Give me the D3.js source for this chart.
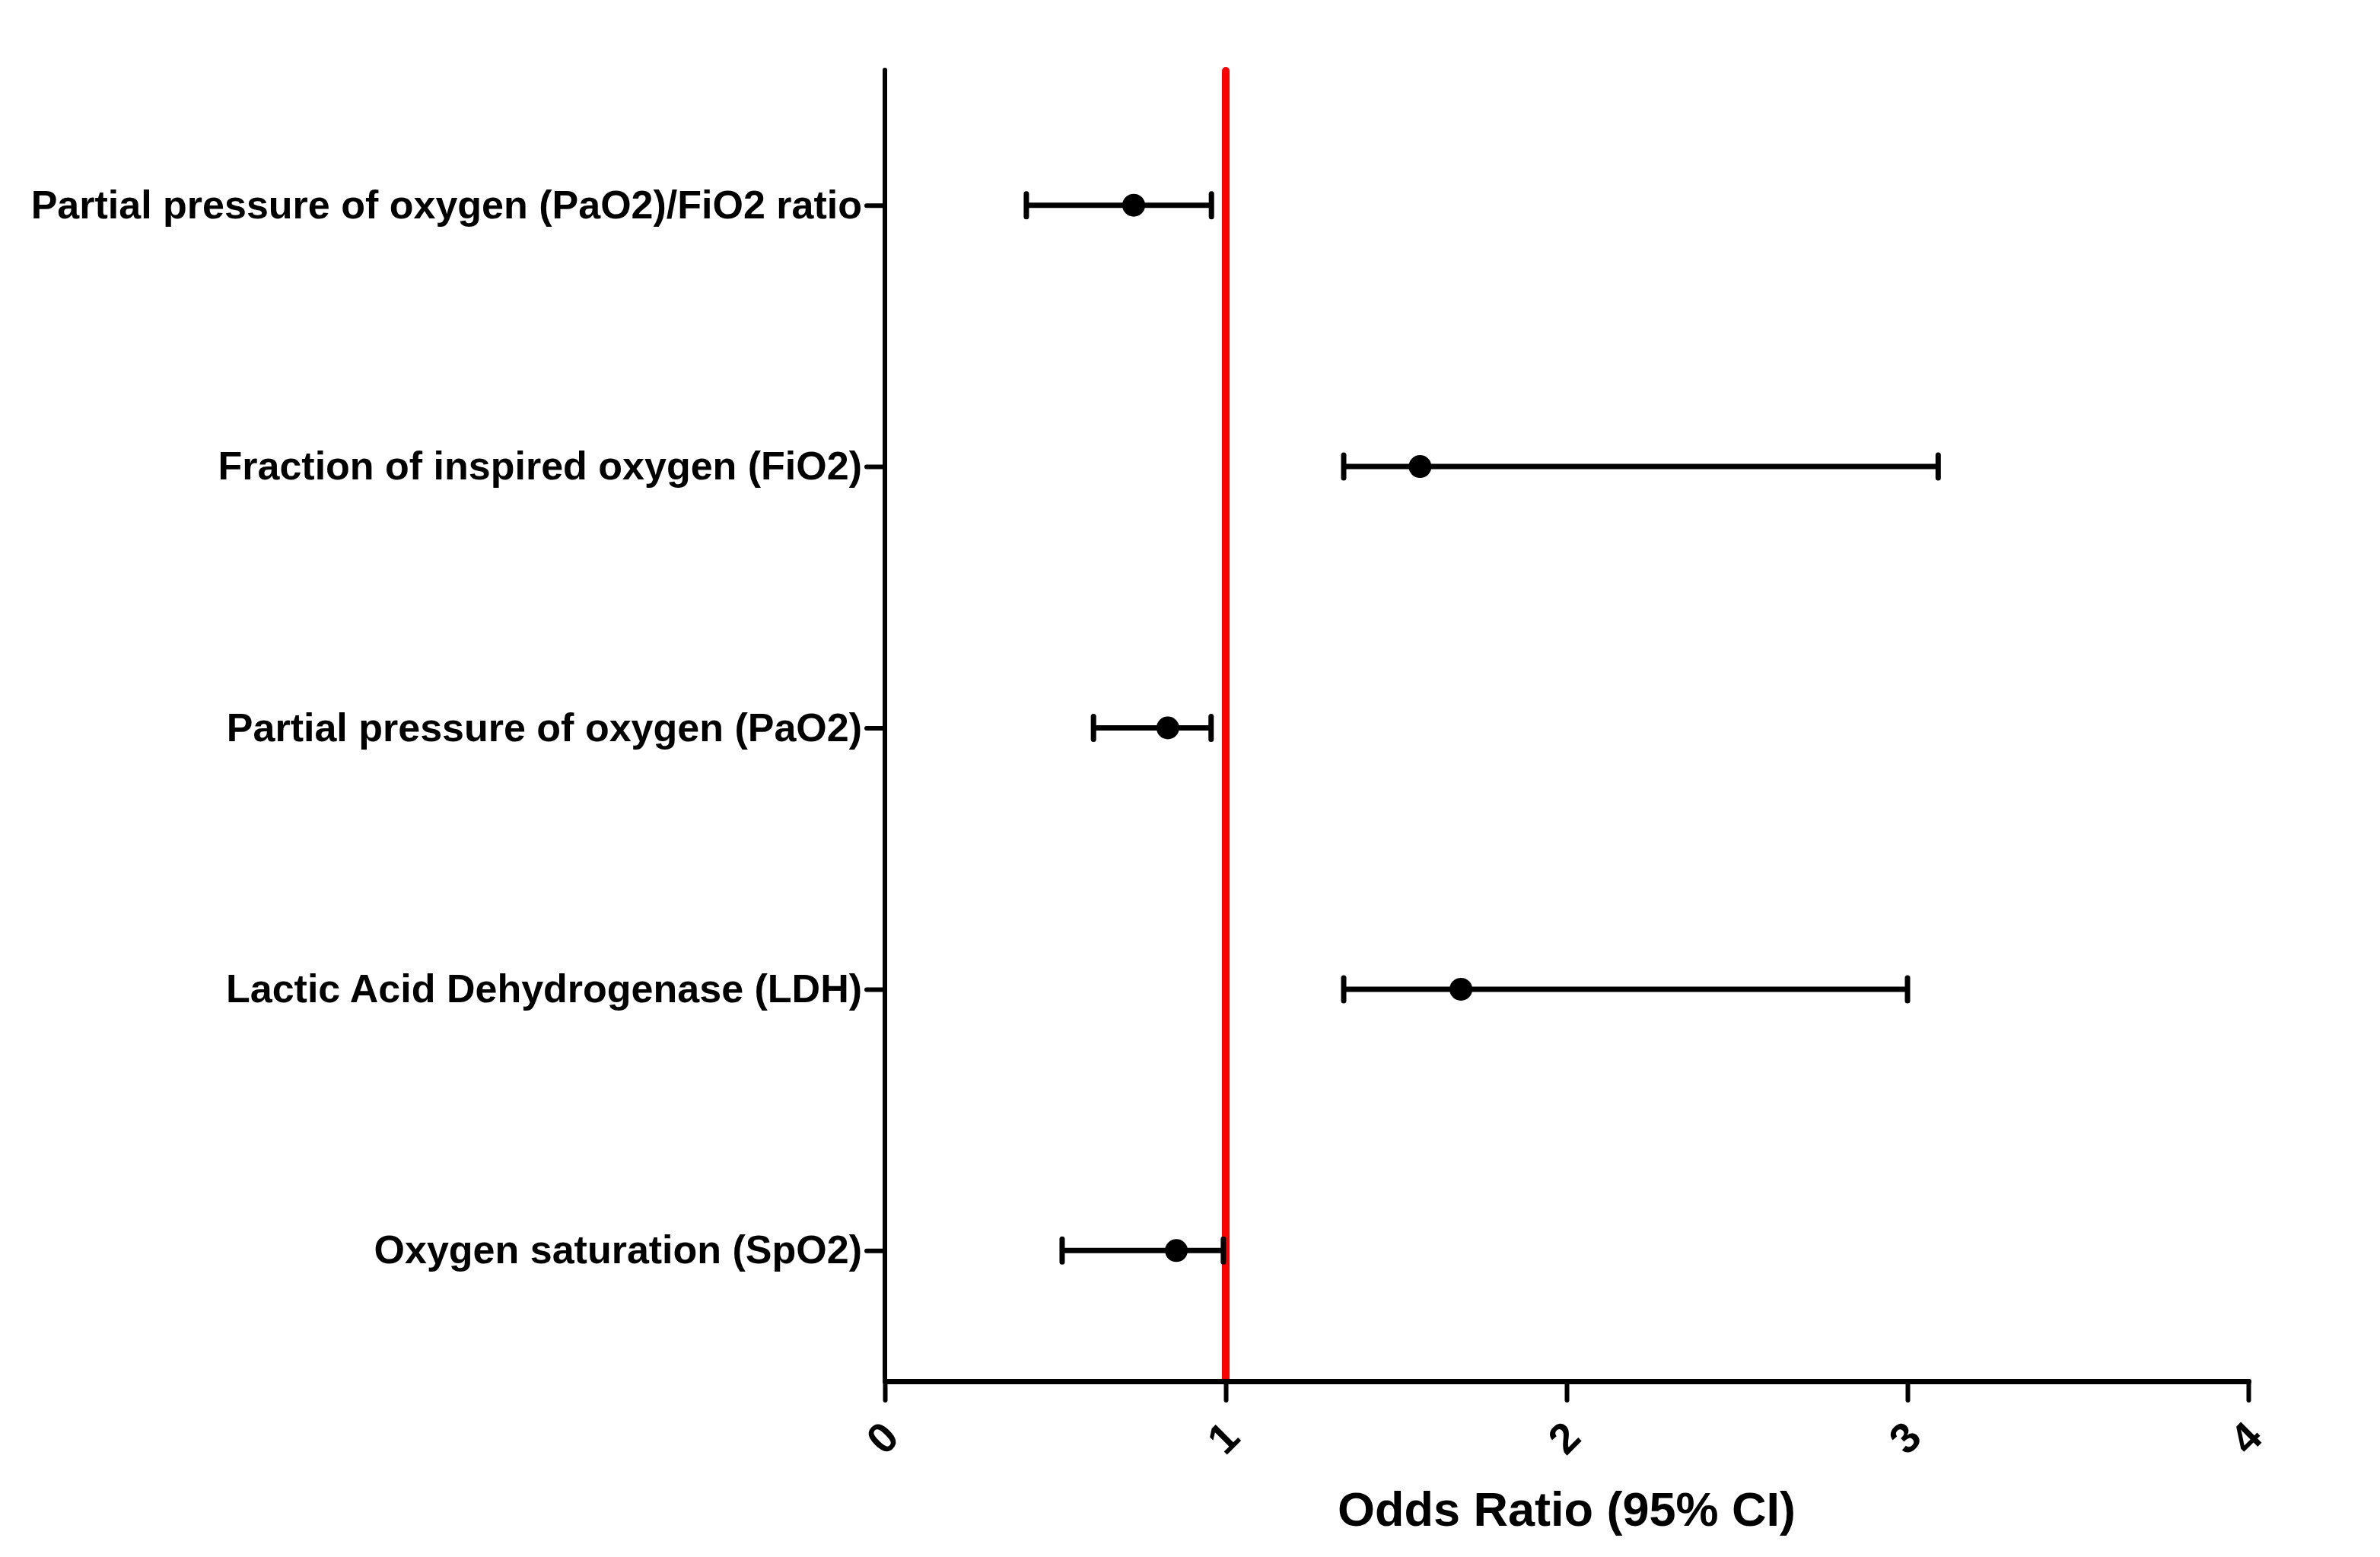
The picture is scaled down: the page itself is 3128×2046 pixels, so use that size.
<!DOCTYPE html>
<html>
<head>
<meta charset="utf-8">
<script src="https://cdn.jsdelivr.net/npm/d3@7"></script>
<style>
  body { margin: 0; background: #ffffff; }
  svg { display: block; font-family: "Liberation Sans", Arial, sans-serif; }
</style>
</head>
<body>
<div id="forest-plot"></div>
<script>
// Data
const categories = [
    "Partial pressure of oxygen (PaO2)/FiO2 ratio",
    "Fraction of inspired oxygen (FiO2)",
    "Partial pressure of oxygen (PaO2)",
    "Lactic Acid Dehydrogenase (LDH)",
    "Oxygen saturation (SpO2)"
];
const oddsRatio = [0.73, 1.57, 0.83, 1.69, 0.855];
const lowerCI = [0.415, 1.346, 0.612, 1.346, 0.52];
const upperCI = [0.958, 3.09, 0.957, 3.0, 0.993];
const xTicks = [0, 1, 2, 3, 4];
const refValue = 1;

const width = 3128;
const height = 2046;
const plot = { left: 1163, right: 2955, top: 98, bottom: 1815 };

const rows = categories.map((c, i) => ({
    name: c, or: oddsRatio[i], lo: lowerCI[i], hi: upperCI[i]
}));

const svg = d3.select("#forest-plot")
    .append("svg")
    .attr("width", width)
    .attr("height", height);

svg.append("rect")
    .attr("width", width)
    .attr("height", height)
    .attr("fill", "#ffffff");

// Scales
const x = d3.scaleLinear()
    .domain([0, 4])
    .range([plot.left, plot.right]);

const y = d3.scalePoint()
    .domain(categories)
    .range([plot.top, plot.bottom])
    .padding(0.5);

// Reference line at OR = 1
svg.append("line")
    .attr("x1", x(refValue))
    .attr("x2", x(refValue))
    .attr("y1", 93)
    .attr("y2", plot.bottom)
    .attr("stroke", "#ff0000")
    .attr("stroke-width", 10)
    .attr("stroke-linecap", "round");

// Y-axis
const yAxis = svg.append("g")
    .attr("transform", `translate(${plot.left},0)`)
    .call(d3.axisLeft(y).tickSize(24).tickPadding(6).tickSizeOuter(0));

yAxis.select(".domain")
    .attr("d", `M0,92V${plot.bottom}`)
    .attr("stroke", "#000")
    .attr("stroke-width", 6)
    .attr("stroke-linecap", "round");

yAxis.selectAll(".tick line")
    .attr("stroke", "#000")
    .attr("stroke-width", 6)
    .attr("stroke-linecap", "round");

yAxis.selectAll(".tick text")
    .attr("fill", "#000")
    .style("font-size", "52px")
    .style("font-weight", "bold");

// X-axis
const xAxis = svg.append("g")
    .attr("transform", `translate(0,${plot.bottom})`)
    .call(d3.axisBottom(x).tickValues(xTicks).tickFormat(d3.format("d")).tickSize(25).tickSizeOuter(0));

xAxis.select(".domain")
    .attr("stroke", "#000")
    .attr("stroke-width", 7)
    .attr("stroke-linecap", "round");

xAxis.selectAll(".tick line")
    .attr("stroke", "#000")
    .attr("stroke-width", 6)
    .attr("stroke-linecap", "round");

xAxis.selectAll(".tick text")
    .attr("y", 0)
    .attr("dy", "0.35em")
    .attr("transform", "translate(-4,74) rotate(-45)")
    .attr("text-anchor", "middle")
    .attr("fill", "#000")
    .style("font-size", "56px")
    .style("font-weight", "bold");

// X-axis label
svg.append("text")
    .attr("x", (plot.left + plot.right) / 2)
    .attr("y", 2005)
    .attr("text-anchor", "middle")
    .style("font-size", "63px")
    .style("font-weight", "bold")
    .attr("fill", "#000")
    .text("Odds Ratio (95% CI)");

// Confidence interval lines
svg.selectAll("line.ci")
    .data(rows)
    .join("line")
    .attr("class", "ci")
    .attr("x1", d => x(d.lo))
    .attr("x2", d => x(d.hi))
    .attr("y1", d => y(d.name))
    .attr("y2", d => y(d.name))
    .attr("stroke", "#000")
    .attr("stroke-width", 7);

// Whisker caps
const caps = rows.flatMap(d => [{ v: d.lo, name: d.name }, { v: d.hi, name: d.name }]);
svg.selectAll("line.cap")
    .data(caps)
    .join("line")
    .attr("class", "cap")
    .attr("x1", d => x(d.v))
    .attr("x2", d => x(d.v))
    .attr("y1", d => y(d.name) - 15)
    .attr("y2", d => y(d.name) + 15)
    .attr("stroke", "#000")
    .attr("stroke-width", 7)
    .attr("stroke-linecap", "round");

// Point estimates
svg.selectAll("circle.or")
    .data(rows)
    .join("circle")
    .attr("class", "or")
    .attr("cx", d => x(d.or))
    .attr("cy", d => y(d.name))
    .attr("r", 15)
    .attr("fill", "#000");
</script>
</body>
</html>
